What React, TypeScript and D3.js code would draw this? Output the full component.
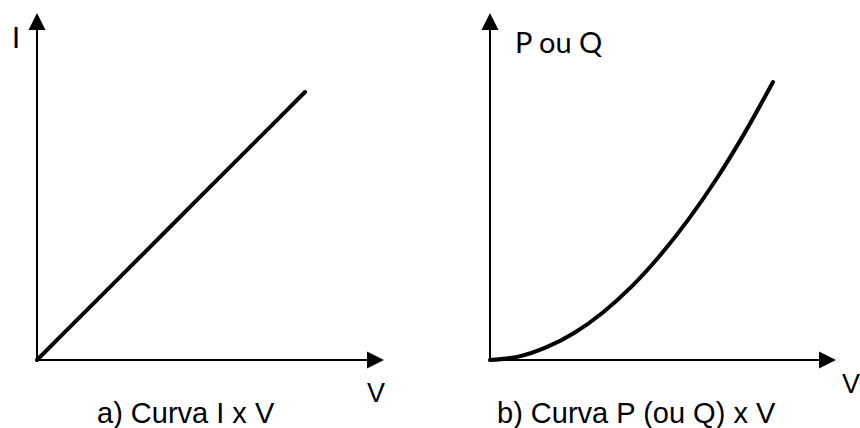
import React from "react";
import * as d3 from "d3";

// Voltage samples shared by both curves
const voltage = [0, 1, 2, 3, 4, 5, 6, 7, 8, 9, 10];
// a) current grows linearly with voltage
const current = [0, 1, 2, 3, 4, 5, 6, 7, 8, 9, 10];
// b) power (or reactive power) grows roughly with the square of voltage
const power = [0, 1.2, 4.6, 9.9, 17.2, 26.4, 37.5, 50.4, 65.1, 81.7, 100];

const captions = ["a) Curva I x V", "b) Curva P (ou Q) x V"];
const yLabels = ["I", "P ou Q"];
const xLabel = "V";

const W = 860;
const H = 428;

const labelFont = "Lato, 'Open Sans', sans-serif";
const captionFont = "'Liberation Sans', Arial, sans-serif";

type Panel = {
  ox: number;
  oy: number;
  xTip: number;
  yTip: number;
  xEnd: number;
  yEnd: number;
  series: number[];
  yLabel: string;
  yLabelX: number;
  yLabelY: number;
  vX: number;
  vY: number;
  caption: string;
  captionX: number;
  curve: d3.CurveFactory;
};

const panels: Panel[] = [
  {
    ox: 37, oy: 360, xTip: 384, yTip: 13, xEnd: 305, yEnd: 92,
    series: current, yLabel: yLabels[0], yLabelX: 12, yLabelY: 48,
    vX: 367, vY: 402, caption: captions[0], captionX: 97, curve: d3.curveLinear,
  },
  {
    ox: 490, oy: 360, xTip: 836, yTip: 13, xEnd: 773, yEnd: 82,
    series: power, yLabel: yLabels[1], yLabelX: 515, yLabelY: 53,
    vX: 842, vY: 393, caption: captions[1], captionX: 497, curve: d3.curveMonotoneX,
  },
];

function PanelView({ p }: { p: Panel }) {
  const x = d3.scaleLinear().domain([0, d3.max(voltage)!]).range([p.ox, p.xEnd]);
  const y = d3.scaleLinear().domain([0, d3.max(p.series)!]).range([p.oy, p.yEnd]);
  const line = d3
    .line<number>()
    .x((_, i) => x(voltage[i]))
    .y((d) => y(d))
    .curve(p.curve);

  const head = 17;
  const half = 8.5;
  return (
    <g>
      {/* axes */}
      <line x1={p.ox} y1={p.oy} x2={p.ox} y2={p.yTip + head - 1} stroke="#000" strokeWidth={2} />
      <line x1={p.ox} y1={p.oy} x2={p.xTip - head + 1} y2={p.oy} stroke="#000" strokeWidth={2} />
      <polygon
        points={`${p.ox},${p.yTip} ${p.ox - half},${p.yTip + head} ${p.ox + half},${p.yTip + head}`}
        fill="#000"
      />
      <polygon
        points={`${p.xTip},${p.oy} ${p.xTip - head},${p.oy - half} ${p.xTip - head},${p.oy + half}`}
        fill="#000"
      />
      {/* curve */}
      <path d={line(p.series) || ""} fill="none" stroke="#000" strokeWidth={4} strokeLinecap="round" />
      {/* labels */}
      <text x={p.yLabelX} y={p.yLabelY} fontFamily={labelFont} fontSize={29} fill="#000">
        {p.yLabel}
      </text>
      <text x={p.vX} y={p.vY} fontFamily={captionFont} fontSize={27} fill="#000">
        {xLabel}
      </text>
      <text x={p.captionX} y={423} fontFamily={captionFont} fontSize={29} fill="#000">
        {p.caption}
      </text>
    </g>
  );
}

export default function App() {
  return (
    <svg
      width={W}
      height={H}
      viewBox={`0 0 ${W} ${H}`}
      style={{ position: "absolute", left: 0, top: 0, background: "#fff" }}
    >
      <rect width={W} height={H} fill="#fff" />
      {panels.map((p, i) => (
        <PanelView key={i} p={p} />
      ))}
    </svg>
  );
}
